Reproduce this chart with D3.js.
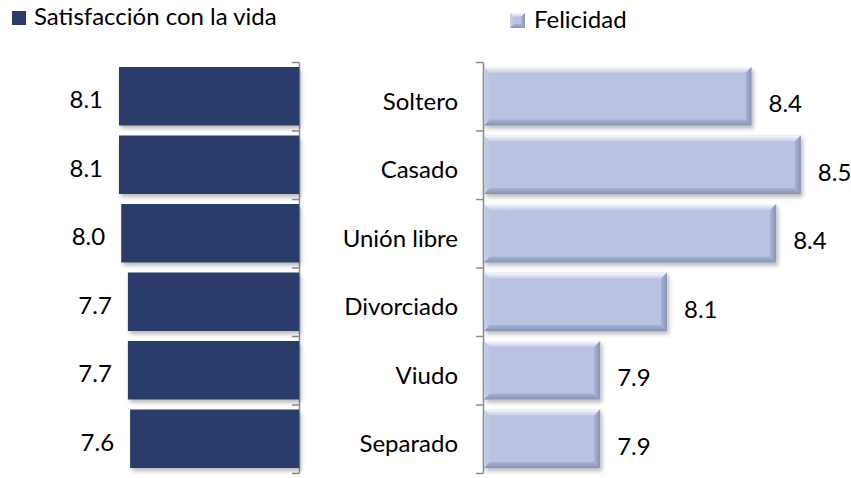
<!DOCTYPE html>
<html>
<head>
<meta charset="utf-8">
<script src="https://d3js.org/d3.v7.min.js"></script>
<style>
  body { margin: 0; background: #fff; }
  svg text { font-family: Lato, "Open Sans", sans-serif; fill: #000; font-size: 24px; }
  .axis path, .axis line { stroke: #8c8c8c; stroke-width: 1.5; }
</style>
</head>
<body>
<svg width="851" height="478"></svg>
<script>

// data
var categories = ["Soltero", "Casado", "Unión libre", "Divorciado", "Viudo", "Separado"];
var satisfaccion = [8.1, 8.1, 8.0, 7.7, 7.7, 7.6];
var felicidad = [8.36, 8.5, 8.43, 8.12, 7.93, 7.93];
var seriesNames = ["Satisfacción con la vida", "Felicidad"];

var svg = d3.select("svg");
var defs = svg.append("defs");

// soft drop shadow under the bars
var sh = defs.append("filter").attr("id", "shadow")
    .attr("x", "-5%").attr("y", "-10%").attr("width", "115%").attr("height", "130%");
sh.append("feDropShadow").attr("dx", 2).attr("dy", 3).attr("stdDeviation", 2)
    .attr("flood-color", "#000").attr("flood-opacity", 0.28);

function grad(id, x2, y2, c1, c2) {
  var g = defs.append("linearGradient").attr("id", id)
      .attr("x1", 0).attr("y1", 0).attr("x2", x2).attr("y2", y2);
  g.append("stop").attr("offset", "0%").attr("stop-color", c1);
  g.append("stop").attr("offset", "100%").attr("stop-color", c2);
}
grad("bvTop", 0, 1, "#f9fafe", "#c4cce7");
grad("bvBot", 0, 1, "#a7b1d2", "#8792b6");
grad("bvRight", 1, 0, "#a8b2d3", "#8893b7");
grad("bvLeft", 1, 0, "#c9d1ea", "#b9c3e1");

var y = d3.scaleBand().domain(categories).range([62, 473])
    .paddingInner(0.146).paddingOuter(0.073);
var yTicks = d3.scaleLinear().domain([0, categories.length]).range([62, 473]);

var xLeft = d3.scaleLinear().domain([0, 9]).range([299, 99]);
var xRight = d3.scaleLinear().domain([7.6, 8.6]).range([484, 836]);

function mid(d) { return y(d) + y.bandwidth() / 2; }

// left panel
svg.append("g").attr("class", "axis")
    .attr("transform", "translate(299,0)")
    .call(d3.axisLeft(yTicks).ticks(6).tickSize(7).tickSizeOuter(0).tickFormat(""));

svg.selectAll(".barL")
  .data(categories)
  .enter().append("rect")
    .attr("class", "barL")
    .attr("x", function(d, i) { return xLeft(satisfaccion[i]); })
    .attr("y", function(d) { return y(d); })
    .attr("width", function(d, i) { return xLeft(0) - xLeft(satisfaccion[i]); })
    .attr("height", y.bandwidth())
    .attr("fill", "#2b3c6b")
    .attr("filter", "url(#shadow)");

svg.selectAll(".valL")
  .data(categories)
  .enter().append("text")
    .attr("x", function(d, i) { return xLeft(satisfaccion[i]) - 16; })
    .attr("y", function(d) { return mid(d) + 12; })
    .attr("text-anchor", "end")
    .text(function(d, i) { return d3.format(".1f")(satisfaccion[i]); });

// right panel
svg.append("g").attr("class", "axis")
    .attr("transform", "translate(483,0)")
    .call(d3.axisLeft(yTicks).ticks(6).tickSize(7).tickSizeOuter(0).tickFormat(""));

var b = 6;
var bars = svg.selectAll(".barR")
  .data(categories)
  .enter().append("g")
    .attr("class", "barR");

bars.append("rect")
    .attr("x", xRight(7.6))
    .attr("y", function(d) { return y(d); })
    .attr("width", function(d, i) { return xRight(felicidad[i]) - xRight(7.6); })
    .attr("height", y.bandwidth())
    .attr("fill", "#b9c3e1")
    .attr("filter", "url(#shadow)");

function bevel(part) {
  return function(d, i) {
    var x0 = xRight(7.6), x1 = xRight(felicidad[i]),
        y0 = y(d), y1 = y(d) + y.bandwidth();
    var p;
    if (part == "top") p = [[x0, y0], [x1, y0], [x1 - b, y0 + b], [x0 + b, y0 + b]];
    if (part == "bot") p = [[x0 + b, y1 - b], [x1 - b, y1 - b], [x1, y1], [x0, y1]];
    if (part == "right") p = [[x1 - b, y0 + b], [x1, y0], [x1, y1], [x1 - b, y1 - b]];
    if (part == "left") p = [[x0, y0], [x0 + b, y0 + b], [x0 + b, y1 - b], [x0, y1]];
    return p.map(function(q) { return q.join(","); }).join(" ");
  };
}
bars.append("polygon").attr("points", bevel("left")).attr("fill", "url(#bvLeft)");
bars.append("polygon").attr("points", bevel("top")).attr("fill", "url(#bvTop)");
bars.append("polygon").attr("points", bevel("bot")).attr("fill", "url(#bvBot)");
bars.append("polygon").attr("points", bevel("right")).attr("fill", "url(#bvRight)");

svg.selectAll(".valR")
  .data(categories)
  .enter().append("text")
    .attr("x", function(d, i) { return xRight(felicidad[i]) + 17; })
    .attr("y", function(d) { return mid(d) + 16; })
    .text(function(d, i) { return d3.format(".1f")(felicidad[i]); });

svg.selectAll(".cat")
  .data(categories)
  .enter().append("text")
    .attr("x", 458)
    .attr("y", function(d) { return mid(d) + 13.5; })
    .attr("text-anchor", "end")
    .text(function(d) { return d; });

// legends
svg.append("rect").attr("x", 12).attr("y", 11).attr("width", 14).attr("height", 14)
    .attr("fill", "#2b3c6b");
svg.append("text").attr("x", 34).attr("y", 25).text(seriesNames[0]);

var lg = svg.append("g").attr("transform", "translate(510,13)");
lg.append("rect").attr("width", 15).attr("height", 15).attr("fill", "#b9c3e1");
lg.append("polygon").attr("points", "0,0 15,0 11,4 4,4").attr("fill", "url(#bvTop)");
lg.append("polygon").attr("points", "4,11 11,11 15,15 0,15").attr("fill", "url(#bvBot)");
lg.append("polygon").attr("points", "11,4 15,0 15,15 11,11").attr("fill", "url(#bvRight)");
lg.append("polygon").attr("points", "0,0 4,4 4,11 0,15").attr("fill", "url(#bvLeft)");
svg.append("text").attr("x", 534).attr("y", 28).text(seriesNames[1]);

</script>
</body>
</html>
